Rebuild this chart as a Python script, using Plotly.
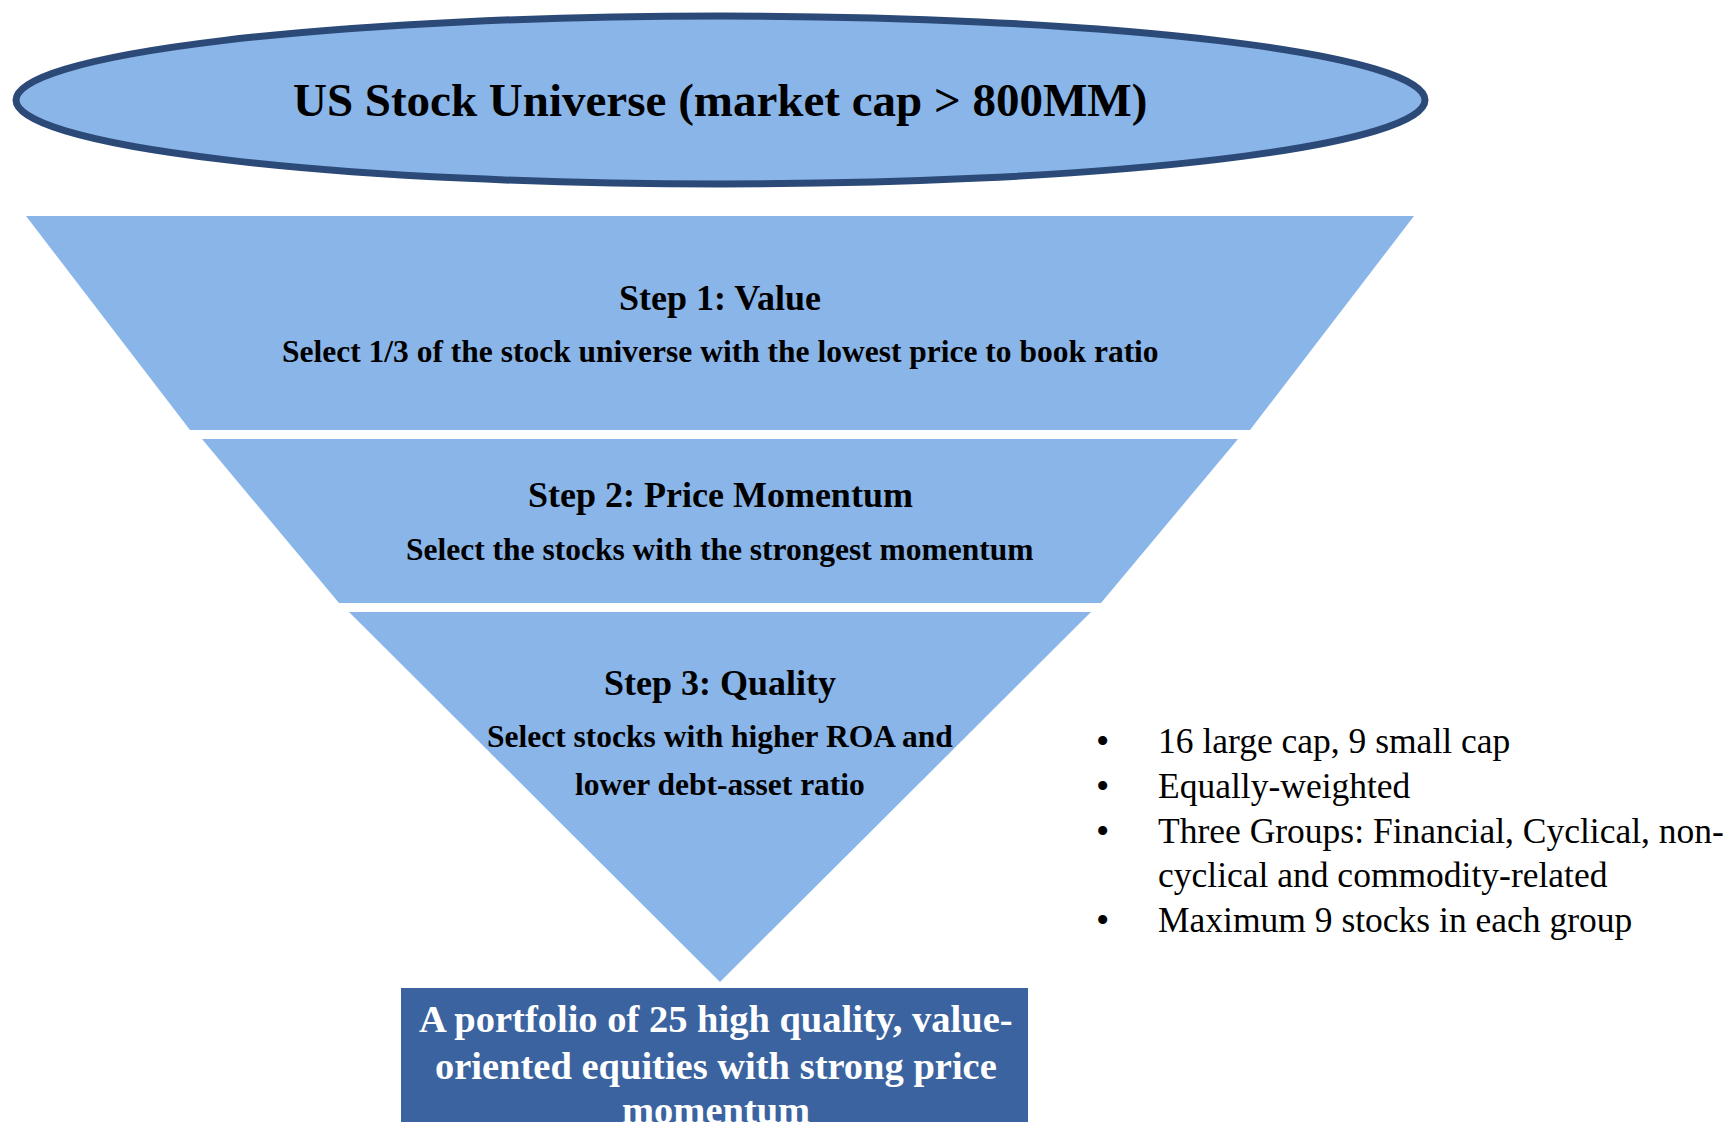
import plotly.graph_objects as go

W, H = 1732, 1122

title_text = "US Stock Universe (market cap > 800MM)"
step_titles = ["Step 1: Value", "Step 2: Price Momentum", "Step 3: Quality"]
step_descs = [
    ["Select 1/3 of the stock universe with the lowest price to book ratio"],
    ["Select the stocks with the strongest momentum"],
    ["Select stocks with higher ROA and", "lower debt-asset ratio"],
]
result_lines = ["A portfolio of 25 high quality, value-",
                "oriented equities with strong price",
                "momentum"]
bullet_items = [
    ["16 large cap, 9 small cap"],
    ["Equally-weighted"],
    ["Three Groups: Financial, Cyclical, non-", "cyclical and commodity-related"],
    ["Maximum 9 stocks in each group"],
]

LIGHT = "#8AB5E8"
DARK_LINE = "#2C4A78"
BOX = "#3B63A0"
SERIF = "Liberation Serif, Times New Roman, serif"

fig = go.Figure()
shapes = []

# Ellipse
shapes.append(dict(type="circle", xref="x", yref="y", x0=16, x1=1425, y0=16, y1=184,
                   fillcolor=LIGHT, line=dict(color=DARK_LINE, width=7)))

cx = 720
# Funnel pieces: (top_y, bottom_y, top_halfwidth, bottom_halfwidth)
pieces = [(216, 430, 694, 530), (439, 603, 518, 381), (612, 982, 371, 0)]
for (t, b, tw, bw) in pieces:
    if bw > 0:
        path = f"M {cx-tw} {t} L {cx+tw} {t} L {cx+bw} {b} L {cx-bw} {b} Z"
    else:
        path = f"M {cx-tw} {t} L {cx+tw} {t} L {cx} {b} Z"
    shapes.append(dict(type="path", xref="x", yref="y", path=path,
                       fillcolor=LIGHT, line=dict(width=0)))

# Result box
shapes.append(dict(type="rect", xref="x", yref="y", x0=401, x1=1028, y0=988, y1=1160,
                   fillcolor=BOX, line=dict(width=0)))

ann = []
ann.append(dict(x=cx, y=100, text=f"<b>{title_text}</b>", showarrow=False,
                font=dict(family=SERIF, size=47, color="black"), xanchor="center", yanchor="middle"))

title_y = [298, 495, 683]
desc_y = [[351], [549], [736, 784]]
for i, st in enumerate(step_titles):
    ann.append(dict(x=cx, y=title_y[i], text=f"<b>{st}</b>", showarrow=False,
                    font=dict(family=SERIF, size=36, color="black"), xanchor="center", yanchor="middle"))
    for j, line in enumerate(step_descs[i]):
        ann.append(dict(x=cx, y=desc_y[i][j], text=f"<b>{line}</b>", showarrow=False,
                        font=dict(family=SERIF, size=31.5, color="black"), xanchor="center", yanchor="middle"))

res_y = [1019, 1066, 1110]
for j, line in enumerate(result_lines):
    ann.append(dict(x=716, y=res_y[j], text=f"<b>{line}</b>", showarrow=False,
                    font=dict(family=SERIF, size=38.5, color="white"), xanchor="center", yanchor="middle"))

line_y = 741
for item in bullet_items:
    ann.append(dict(x=1102, y=line_y, text="•", showarrow=False,
                    font=dict(family=SERIF, size=38, color="black"), xanchor="center", yanchor="middle"))
    for line in item:
        ann.append(dict(x=1156, y=line_y, text=line, showarrow=False,
                        font=dict(family=SERIF, size=35.5, color="black"), xanchor="left", yanchor="middle"))
        line_y += 44.8

fig.update_layout(
    width=W, height=H, margin=dict(l=0, r=0, t=0, b=0),
    paper_bgcolor="white", plot_bgcolor="white",
    xaxis=dict(range=[0, W], visible=False, fixedrange=True),
    yaxis=dict(range=[H, 0], visible=False, fixedrange=True),
    shapes=shapes, annotations=ann, showlegend=False,
)

fig.write_html("out.html", config={"displayModeBar": False},
               post_script="document.body.style.margin='0';document.body.style.overflow='hidden';")
